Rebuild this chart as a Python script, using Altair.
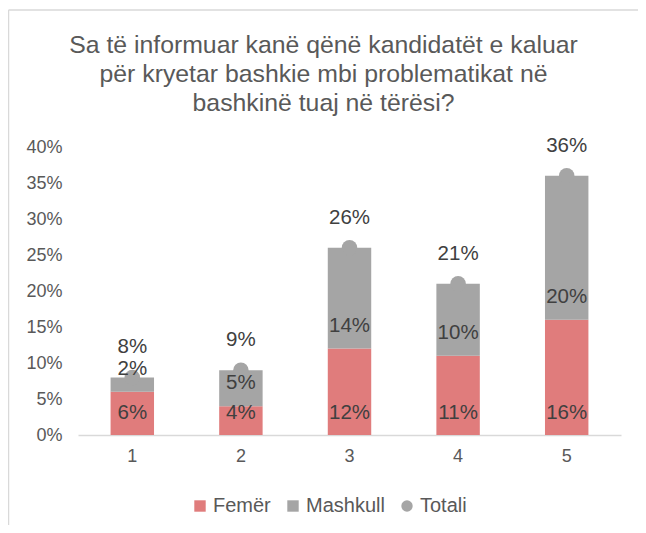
import altair as alt
import pandas as pd

categories = ["1", "2", "3", "4", "5"]
femer = [0.06, 0.04, 0.12, 0.11, 0.16]
mashkull = [0.02, 0.05, 0.14, 0.10, 0.20]
totali = [0.08, 0.09, 0.26, 0.21, 0.36]
series = ["Femër", "Mashkull", "Totali"]
title_lines = [
    "Sa të informuar kanë qënë kandidatët e kaluar",
    "për kryetar bashkie mbi problematikat në",
    "bashkinë tuaj në tërësi?",
]
y_ticks = [0, 0.05, 0.10, 0.15, 0.20, 0.25, 0.30, 0.35, 0.40]

RED = "#E07C7C"
GRAY = "#A5A5A5"
FONT = "Liberation Sans"

rows = []
for c, f, m in zip(categories, femer, mashkull):
    rows.append({"cat": c, "series": "Femër", "value": f, "y0": 0.0, "y1": f})
    rows.append({"cat": c, "series": "Mashkull", "value": m, "y0": f, "y1": f + m})
bars_df = pd.DataFrame(rows)
tot_df = pd.DataFrame({"cat": categories, "series": "Totali", "value": totali})

W, H = 543, 288

x_axis = alt.Axis(
    labelAngle=0, ticks=False, domainColor="#D9D9D9", domainWidth=1.5,
    labelFont=FONT, labelFontSize=18, labelColor="#595959", labelPadding=12,
)
x_scale = alt.Scale(paddingInner=0.6, paddingOuter=0.3)
y_scale = alt.Scale(domain=[0, 0.4], nice=False)
y_axis = alt.Axis(
    values=y_ticks, format=".0%", grid=False, domain=False, ticks=False,
    labelFont=FONT, labelFontSize=18, labelColor="#595959", labelPadding=16,
    labelOverlap=False,
)


def X():
    return alt.X("cat:N", sort=categories, title=None, scale=x_scale, axis=x_axis)


def Y(field):
    return alt.Y(field, scale=y_scale, axis=y_axis, title=None)


color_scale = alt.Scale(domain=series, range=[RED, GRAY, GRAY])
shape_scale = alt.Scale(domain=series, range=["square", "square", "circle"])
legend = alt.Legend(
    title=None, orient="none", direction="horizontal", legendX=112, legendY=349,
    labelFont=FONT, labelFontSize=20, labelColor="#595959", symbolSize=130,
    symbolStrokeWidth=0, columnPadding=12, labelOffset=3,
)

bars = alt.Chart(bars_df).mark_bar().encode(
    x=X(),
    y=Y("y0:Q"),
    y2="y1:Q",
    color=alt.Color("series:N", scale=color_scale, legend=legend),
)

points = alt.Chart(tot_df).mark_point(filled=True, size=240, opacity=1).encode(
    x=X(),
    y=Y("value:Q"),
    color=alt.Color("series:N", scale=color_scale, legend=legend),
    shape=alt.Shape("series:N", scale=shape_scale, legend=legend),
)


def labels(df, field, dy):
    return alt.Chart(df).mark_text(
        font=FONT, fontSize=20.5, color="#404040", baseline="middle", dy=dy
    ).encode(
        x=X(),
        y=Y(field),
        text=alt.Text("value:Q", format=".0%"),
    )


lab_f = labels(bars_df[bars_df.series == "Femër"], "y0:Q", -22)
lab_m = labels(bars_df[bars_df.series == "Mashkull"], "y0:Q", -23)
lab_t = labels(tot_df, "value:Q", -30)

one = pd.DataFrame({"a": [0]})
border_left = alt.Chart(one).mark_rule(stroke="#D9D9D9", strokeWidth=1.5).encode(
    x=alt.value(-69.5), y=alt.value(-137), y2=alt.value(600)
)
border_top = alt.Chart(one).mark_rule(stroke="#D9D9D9", strokeWidth=1.5).encode(
    x=alt.value(-69.5), x2=alt.value(560), y=alt.value(-137)
)

chart = alt.layer(border_left, border_top, bars, points, lab_f, lab_m, lab_t).properties(
    width=W,
    height=H,
    title=alt.TitleParams(
        text=title_lines, font=FONT, fontSize=24.8, fontWeight="normal",
        color="#595959", lineHeight=29, anchor="middle", frame="group",
        baseline="alphabetic", dx=-26, offset=-127,
    ),
    autosize=alt.AutoSizeParams(type="none"),
    padding={"left": 70, "top": 139, "right": 17, "bottom": 90},
).configure_view(stroke=None)

chart.save("out.html", embed_options={"renderer": "svg", "actions": False})
